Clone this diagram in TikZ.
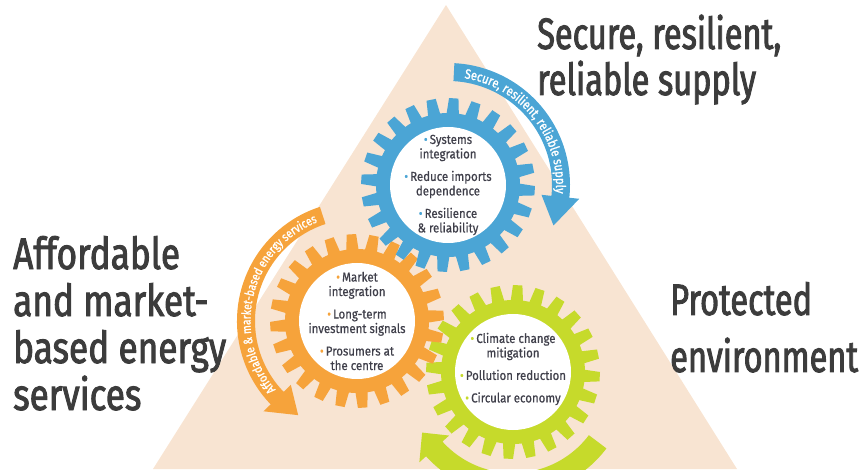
\documentclass[tikz,border=0pt]{standalone}
\usepackage{fontspec}
\setmainfont{Fira Sans}
\newfontfamily\dinbig[FakeStretch=0.74,FakeBold=2]{Fira Sans}
\newfontfamily\dinbigw[FakeStretch=0.80,FakeBold=2]{Fira Sans}
\newfontfamily\dinsmall[FakeStretch=0.88,FakeBold=0.6]{Fira Sans}
\newfontfamily\dinarc[FakeStretch=0.82,FakeBold=1.2]{Fira Sans}
\usetikzlibrary{calc,decorations.text}
\definecolor{peach}{HTML}{F8E4D2}
\definecolor{gblue}{HTML}{4BA5D5}
\definecolor{gorange}{HTML}{F6A33B}
\definecolor{ggreen}{HTML}{C6DA2B}
\definecolor{labgray}{HTML}{3C3C3C}
\definecolor{txtgray}{HTML}{3F3F4A}
\newcommand\mygear[3]{% #1 centre, #2 colour, #3 phase
  \fill[#2] (#1) circle[radius=72pt];
  \foreach \k in {0,...,23}{%
    \pgfmathsetmacro\gAng{#3+15*\k}%
    \fill[#2] ($(#1)+({\gAng-5}:71)$) -- ($(#1)+({\gAng-3.1}:87)$) -- ($(#1)+({\gAng+3.1}:87)$) -- ($(#1)+({\gAng+5}:71)$) -- cycle;
  }%
  \fill[white] (#1) circle[radius=58pt];
}
\newcommand\myarrow[8]{% #1 centre, #2 colour, #3 start, #4 base, #5 tip, #6 mid radius, #7 half width, #8 flare
  \pgfmathsetmacro\arRi{#6-#7}%
  \pgfmathsetmacro\arRo{#6+#7}%
  \pgfmathsetmacro\arFo{#6+#7+#8}%
  \pgfmathsetmacro\arFi{#6-#7-#8}%
  \fill[#2] ($(#1)+(#3:\arRo)$) arc[start angle=#3, end angle=#4, radius=\arRo pt]
    -- ($(#1)+(#4:\arFo)$) -- ($(#1)+(#5:#6)$) -- ($(#1)+(#4:\arFi)$)
    -- ($(#1)+(#4:\arRi)$) arc[start angle=#4, end angle=#3, radius=\arRi pt] -- cycle;
}
\newcommand\bb[1]{\textcolor{#1}{•}\,}
\tikzset{
  biglabel/.style={font=\dinbig\fontsize{44}{46}\selectfont, text=labgray, align=left, inner sep=0pt, anchor=base west},
  geartext/.style={font=\dinsmall\fontsize{13}{14.5}\selectfont, text=txtgray, align=center, inner sep=0pt},
  arctext/.style={decorate, decoration={text along path, text={#1}, text align=center, text color=white}}
}
\begin{document}
\begin{tikzpicture}[x=1pt,y=1pt]
\useasboundingbox (0,0) rectangle (868,469);
\clip (0,0) rectangle (868,469);
% background triangle
\fill[peach] (446,464) -- (153,0) -- (737,0) -- cycle;
% gear centres
\coordinate (bluec) at (448,284);
\coordinate (orangec) at (357,148);
\coordinate (greenc) at (513,97);
\coordinate (greenarc) at (513,91);
% curved arrows
\myarrow{bluec}{gblue}{87}{-6}{-21}{113}{9}{10}
\myarrow{orangec}{gorange}{108}{224}{238}{111}{9}{10}
\myarrow{greenarc}{ggreen}{-37}{-138}{-149}{106}{11}{9}
{\dinarc\fontsize{13.5}{13.5}\selectfont
\path[arctext={Secure, resilient, reliable supply}] ($(bluec)+(82:108)$) arc[start angle=82, end angle=-5, radius=108pt];
}
{\dinarc\fontsize{12.5}{12.5}\selectfont
\path[arctext={Affordable {\&} market-based energy services}] ($(orangec)+(226:106.5)$) arc[start angle=226, end angle=106, radius=106.5pt];
}
% gears
\mygear{greenc}{ggreen}{11.9}
\mygear{orangec}{gorange}{3.7}
\mygear{bluec}{gblue}{11.2}
% gear texts
\node[geartext] (btext) at (bluec) {\bb{gblue}Systems\\integration\\[8pt]\bb{gblue}Reduce imports\\dependence\\[8pt]\bb{gblue}Resilience\\\& reliability};
\node[geartext] (otext) at (orangec) {\bb{gorange}Market\\integration\\[8pt]\bb{gorange}Long-term\\investment signals\\[8pt]\bb{gorange}Prosumers at\\the centre};
\node[geartext] (gtext) at ($(greenc)+(0,3)$) {\bb{ggreen}Climate change\\mitigation\\[8pt]\bb{ggreen}Pollution reduction\\[8pt]\bb{ggreen}Circular economy};
% big labels (anchored at the baseline of their last line)
\node[biglabel] (secure) at (537,374) {Secure, resilient,\\reliable supply};
\node[biglabel, font=\dinbigw\fontsize{44}{47}\selectfont] (afford) at (13,59) {Affordable\\and market-\\based energy\\services};
\node[biglabel, font=\dinbig\fontsize{44}{57}\selectfont] (protect) at (670,97) {Protected\\environment};
\end{tikzpicture}
\end{document}
